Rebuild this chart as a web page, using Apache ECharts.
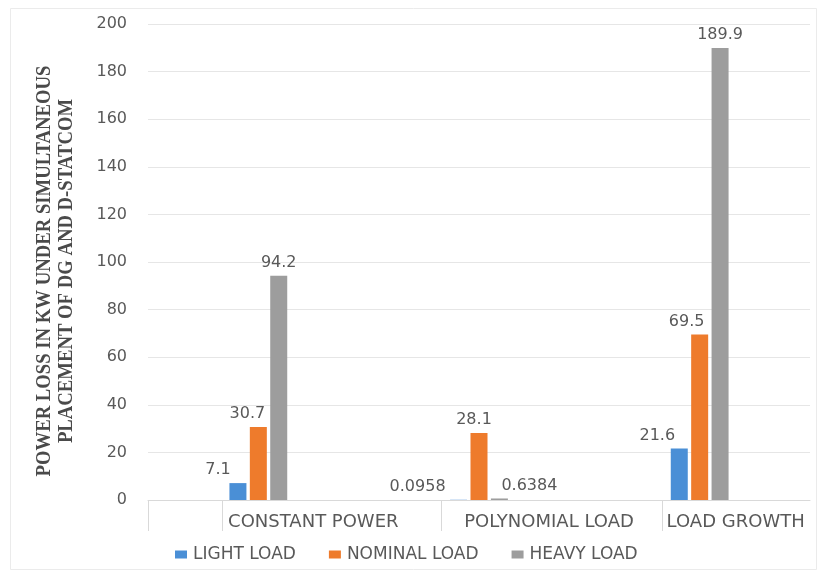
<!DOCTYPE html>
<html>
<head>
<meta charset="utf-8">
<script src="https://cdn.jsdelivr.net/npm/echarts@6/dist/echarts.min.js"></script>
<style>
  html, body { margin: 0; padding: 0; background: #ffffff; }
  #chart { width: 823px; height: 572px; }
</style>
</head>
<body>
<div id="chart"></div>
<script>
// Load scenarios along the x axis
const categories = ['CONSTANT POWER', 'POLYNOMIAL LOAD', 'LOAD GROWTH'];

// Power loss (kW) for each loading level
const lightLoad   = [7.1, 0.0958, 21.6];
const nominalLoad = [30.7, 28.1, 69.5];
const heavyLoad   = [94.2, 0.6384, 189.9];

const seriesNames = ['LIGHT LOAD', 'NOMINAL LOAD', 'HEAVY LOAD'];

// Y axis range
const yMin = 0, yMax = 200, yStep = 20;

// Horizontal nudges for the value labels (px), per series and category
const labelShift = [
  [-20, -41, -22],
  [-11, -5, -13],
  [0, 30, 0]
];
// Horizontal nudges for the category labels (px)
const catShift = [55, 70, 36];

const colors = ['#4A8FD6', '#EE7B2C', '#9D9D9D'];
const textColor = '#595959';
const font = '"DejaVu Sans", Verdana, sans-serif';

const chart = echarts.init(document.getElementById('chart'), null, { renderer: 'canvas' });

function buildSeries(name, values, idx) {
  return {
    name: name,
    type: 'bar',
    xAxisIndex: 0,
    barWidth: 17,
    barGap: '20%',
    itemStyle: { color: colors[idx] },
    data: values.map((v, i) => ({
      value: v,
      label: { offset: [labelShift[idx][i], 0] }
    })),
    label: {
      show: true,
      position: 'top',
      distance: 5,
      color: textColor,
      fontFamily: font,
      fontSize: 16,
      formatter: p => String(p.value)
    }
  };
}

const rich = {};
categories.forEach((c, i) => {
  rich['c' + i] = {
    padding: [0, 0, 0, catShift[i] * 2],
    color: textColor,
    fontFamily: font,
    fontSize: 18
  };
});

const option = {
  animation: false,
  backgroundColor: '#ffffff',
  textStyle: { fontFamily: font },
  grid: { left: 148, right: 13, top: 24, bottom: 72, containLabel: false },
  legend: {
    data: seriesNames,
    left: 170,
    top: 541,
    itemWidth: 12,
    itemHeight: 8,
    itemGap: 33,
    icon: 'rect',
    textStyle: { color: textColor, fontFamily: font, fontSize: 17, padding: [0, 0, 0, 1] }
  },
  xAxis: [
    {
      type: 'category',
      data: categories,
      axisLine: { show: true, lineStyle: { color: '#d9d9d9', width: 1 } },
      axisTick: { show: false },
      axisLabel: {
        margin: 13,
        formatter: (v, i) => '{c' + i + '|' + v + '}',
        rich: rich
      },
      splitLine: { show: false }
    },
    {
      type: 'value',
      position: 'bottom',
      min: 0,
      max: 3,
      axisLine: { show: false },
      axisLabel: { show: false },
      splitLine: { show: false },
      axisTick: {
        show: true,
        inside: false,
        length: 31,
        customValues: [0, 0.335, 1.328, 2.329],
        lineStyle: { color: '#d9d9d9', width: 1 }
      }
    }
  ],
  yAxis: {
    type: 'value',
    min: yMin,
    max: yMax,
    interval: yStep,
    axisLine: { show: false },
    axisTick: { show: false },
    axisLabel: { color: textColor, fontFamily: font, fontSize: 16, margin: 21 },
    splitLine: { lineStyle: { color: '#e6e6e6', width: 1 } }
  },
  graphic: [
    {
      type: 'rect',
      silent: true,
      shape: { x: 10.5, y: 8.5, width: 806, height: 561 },
      style: { fill: 'none', stroke: '#ebebeb', lineWidth: 1 },
      z: -1
    },
    {
      type: 'text',
      silent: true,
      x: 55,
      y: 271,
      rotation: Math.PI / 2,
      scaleX: 0.85,
      style: {
        text: 'POWER LOSS IN KW UNDER SIMULTANEOUS\nPLACEMENT OF DG AND D-STATCOM',
        font: 'bold 22px "Liberation Serif", "Times New Roman", serif',
        fill: '#4a4a4a',
        align: 'center',
        verticalAlign: 'middle',
        lineHeight: 22
      }
    }
  ],
  series: [
    buildSeries(seriesNames[0], lightLoad, 0),
    buildSeries(seriesNames[1], nominalLoad, 1),
    buildSeries(seriesNames[2], heavyLoad, 2)
  ]
};

chart.setOption(option);
</script>
</body>
</html>
